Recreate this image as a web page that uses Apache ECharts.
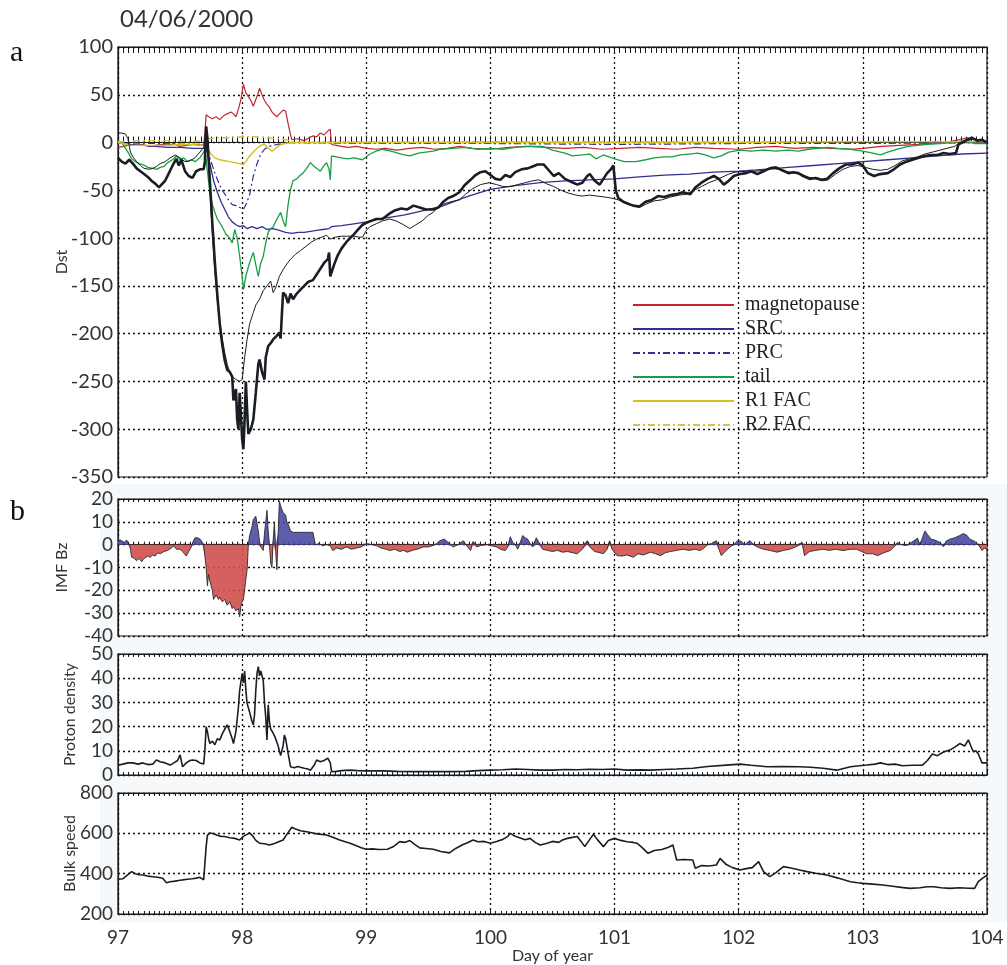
<!DOCTYPE html>
<html>
<head>
<meta charset="utf-8">
<script src="https://cdn.jsdelivr.net/npm/echarts@6/dist/echarts.min.js"></script>
<style>html,body{margin:0;padding:0;background:#fff}#c{width:1007px;height:965px}</style>
</head>
<body>
<div id="c"></div>
<script>
// ---- data: [day of year, value] ----
const dstObserved = [[97.00,-16],[97.03,-20],[97.06,-22],[97.09,-18],[97.12,-22],[97.15,-27],[97.18,-30],[97.21,-33],[97.24,-36],[97.27,-40],[97.30,-43],[97.33,-47],[97.35,-44],[97.38,-40],[97.41,-32],[97.44,-24],[97.47,-17],[97.49,-24],[97.51,-18],[97.54,-30],[97.57,-35],[97.60,-37],[97.63,-30],[97.66,-28],[97.69,-28],[97.70,-20],[97.71,17],[97.72,5],[97.74,-40],[97.76,-85],[97.78,-125],[97.80,-160],[97.82,-190],[97.84,-212],[97.86,-228],[97.88,-238],[97.90,-240],[97.92,-245],[97.93,-270],[97.95,-258],[97.96,-290],[97.97,-300],[97.98,-262],[97.99,-285],[98.00,-310],[98.01,-321],[98.02,-290],[98.03,-250],[98.04,-280],[98.05,-305],[98.07,-300],[98.09,-290],[98.11,-262],[98.13,-232],[98.14,-227],[98.16,-240],[98.18,-248],[98.19,-225],[98.21,-213],[98.23,-210],[98.25,-206],[98.28,-202],[98.30,-199],[98.31,-205],[98.32,-180],[98.33,-157],[98.35,-160],[98.37,-168],[98.39,-158],[98.41,-164],[98.44,-158],[98.47,-154],[98.50,-150],[98.53,-146],[98.57,-144],[98.60,-138],[98.63,-132],[98.66,-126],[98.69,-122],[98.70,-115],[98.71,-140],[98.74,-128],[98.77,-118],[98.80,-111],[98.84,-104],[98.87,-100],[98.90,-96],[98.94,-90],[98.97,-86],[99.00,-84],[99.04,-82],[99.08,-80],[99.13,-80],[99.18,-75],[99.23,-71],[99.28,-69],[99.33,-70],[99.38,-66],[99.43,-68],[99.48,-70],[99.54,-70],[99.58,-68],[99.62,-62],[99.66,-58],[99.70,-56],[99.75,-52],[99.79,-45],[99.84,-39],[99.88,-34],[99.92,-31],[99.96,-30],[100.00,-34],[100.04,-38],[100.08,-39],[100.12,-34],[100.16,-36],[100.20,-31],[100.25,-28],[100.30,-27],[100.34,-25],[100.38,-23],[100.43,-23],[100.47,-29],[100.51,-35],[100.55,-32],[100.60,-38],[100.65,-41],[100.70,-44],[100.74,-42],[100.78,-35],[100.80,-33],[100.84,-40],[100.88,-44],[100.91,-38],[100.94,-32],[100.97,-28],[100.99,-24],[101.01,-50],[101.03,-58],[101.07,-62],[101.11,-64],[101.15,-66],[101.20,-67],[101.25,-62],[101.30,-60],[101.35,-56],[101.40,-57],[101.45,-55],[101.50,-54],[101.55,-52],[101.61,-54],[101.65,-47],[101.70,-42],[101.75,-38],[101.80,-35],[101.84,-38],[101.88,-44],[101.92,-40],[101.96,-35],[102.01,-33],[102.06,-32],[102.10,-30],[102.15,-33],[102.20,-30],[102.25,-27],[102.30,-26],[102.35,-29],[102.40,-32],[102.44,-31],[102.48,-32],[102.52,-35],[102.57,-38],[102.62,-37],[102.67,-39],[102.71,-38],[102.76,-32],[102.81,-27],[102.86,-23],[102.91,-23],[102.96,-21],[103.00,-24],[103.04,-32],[103.09,-35],[103.14,-33],[103.20,-32],[103.25,-28],[103.30,-23],[103.35,-20],[103.40,-18],[103.45,-16],[103.50,-14],[103.55,-13],[103.60,-13],[103.65,-11],[103.70,-12],[103.75,-11],[103.77,-2],[103.80,0],[103.84,3],[103.88,5],[103.92,2],[103.96,3],[104.00,0]];

const dstModel = [[97.00,10],[97.03,10],[97.06,9],[97.08,4],[97.10,-10],[97.12,-15],[97.15,-20],[97.18,-24],[97.21,-27],[97.25,-28],[97.28,-27],[97.31,-25],[97.34,-22],[97.38,-20],[97.42,-16],[97.46,-13],[97.50,-16],[97.54,-20],[97.58,-19],[97.62,-16],[97.66,-10],[97.69,-5],[97.70,5],[97.71,15],[97.72,0],[97.74,-50],[97.76,-95],[97.78,-135],[97.80,-165],[97.82,-188],[97.84,-205],[97.86,-220],[97.88,-232],[97.90,-240],[97.92,-245],[97.95,-248],[97.98,-250],[98.00,-248],[98.02,-225],[98.04,-206],[98.06,-190],[98.09,-178],[98.11,-170],[98.14,-164],[98.17,-155],[98.20,-150],[98.23,-145],[98.25,-157],[98.27,-152],[98.30,-140],[98.33,-133],[98.36,-127],[98.39,-122],[98.43,-117],[98.47,-113],[98.52,-108],[98.56,-104],[98.60,-101],[98.64,-99],[98.68,-97],[98.71,-101],[98.75,-99],[98.80,-98],[98.85,-98],[98.90,-98],[98.94,-99],[98.97,-99],[99.00,-92],[99.03,-88],[99.08,-85],[99.13,-82],[99.19,-80],[99.24,-82],[99.30,-86],[99.35,-90],[99.40,-86],[99.45,-82],[99.50,-76],[99.54,-73],[99.58,-67],[99.63,-64],[99.68,-62],[99.75,-60],[99.80,-54],[99.86,-48],[99.92,-44],[99.99,-42],[100.05,-44],[100.10,-46],[100.16,-46],[100.22,-44],[100.28,-42],[100.34,-40],[100.39,-39],[100.45,-43],[100.51,-46],[100.57,-50],[100.63,-53],[100.69,-55],[100.74,-56],[100.80,-55],[100.86,-56],[100.92,-57],[100.97,-58],[101.03,-60],[101.08,-63],[101.14,-66],[101.20,-68],[101.26,-64],[101.32,-61],[101.38,-60],[101.45,-57],[101.52,-55],[101.58,-54],[101.64,-50],[101.70,-46],[101.76,-42],[101.82,-39],[101.87,-36],[101.92,-33],[101.97,-31],[102.02,-30],[102.08,-31],[102.14,-30],[102.20,-29],[102.26,-27],[102.32,-28],[102.38,-30],[102.44,-32],[102.50,-33],[102.56,-36],[102.62,-38],[102.67,-40],[102.72,-39],[102.78,-33],[102.84,-28],[102.90,-25],[102.96,-24],[103.02,-26],[103.08,-28],[103.14,-29],[103.20,-28],[103.26,-24],[103.32,-19],[103.38,-17],[103.44,-15],[103.50,-12],[103.56,-10],[103.62,-8],[103.68,-6],[103.74,-4],[103.78,0],[103.84,2],[103.90,4],[103.95,2],[104.00,0]];

const magnetopause = [[97.00,-5],[97.05,-4],[97.10,-2],[97.15,-3],[97.20,-2],[97.25,-4],[97.30,-3],[97.35,-2],[97.40,-3],[97.45,-1],[97.50,-4],[97.55,-3],[97.60,-2],[97.65,-2],[97.69,-3],[97.70,10],[97.71,29],[97.73,27],[97.76,25],[97.79,27],[97.82,24],[97.85,28],[97.88,30],[97.91,32],[97.93,30],[97.95,27],[97.97,35],[97.99,45],[98.01,61],[98.03,52],[98.05,48],[98.07,44],[98.09,38],[98.11,45],[98.13,52],[98.14,57],[98.16,50],[98.18,44],[98.20,40],[98.22,37],[98.24,32],[98.26,29],[98.28,27],[98.30,30],[98.33,34],[98.35,33],[98.37,20],[98.39,8],[98.40,3],[98.45,4],[98.50,2],[98.54,5],[98.57,7],[98.60,6],[98.63,10],[98.66,8],[98.69,12],[98.71,14],[98.72,-2],[98.76,-3],[98.80,-4],[98.86,-5],[98.92,-4],[99.00,-6],[99.08,-7],[99.15,-6],[99.25,-8],[99.35,-6],[99.45,-5],[99.55,-7],[99.65,-6],[99.75,-4],[99.85,-6],[100.00,-7],[100.15,-5],[100.30,-4],[100.45,-5],[100.60,-6],[100.75,-5],[100.90,-7],[101.05,-6],[101.20,-5],[101.35,-6],[101.50,-7],[101.65,-5],[101.80,-6],[102.00,-7],[102.15,-5],[102.30,-4],[102.45,-6],[102.60,-5],[102.75,-6],[102.90,-7],[103.00,-6],[103.15,-4],[103.30,-3],[103.45,-2],[103.60,0],[103.70,1],[103.78,3],[103.84,5],[103.90,3],[103.95,2],[104.00,-1]];

const src = [[97.00,0],[97.10,-2],[97.20,-3],[97.30,-4],[97.40,-5],[97.50,-5],[97.60,-6],[97.70,-6],[97.72,-10],[97.74,-22],[97.77,-40],[97.80,-52],[97.83,-62],[97.86,-70],[97.89,-78],[97.92,-83],[97.95,-86],[97.98,-88],[98.01,-87],[98.04,-90],[98.08,-88],[98.12,-90],[98.16,-88],[98.20,-91],[98.25,-90],[98.30,-92],[98.35,-94],[98.40,-95],[98.45,-94],[98.50,-94],[98.55,-93],[98.60,-92],[98.65,-91],[98.70,-90],[98.72,-88],[98.80,-87],[98.90,-85],[99.00,-83],[99.10,-80],[99.20,-78],[99.30,-76],[99.40,-73],[99.50,-70],[99.60,-67],[99.70,-62],[99.80,-57],[99.90,-53],[100.00,-49],[100.20,-45],[100.40,-42],[100.60,-40],[100.80,-39],[101.00,-38],[101.20,-36],[101.40,-34],[101.60,-33],[101.80,-31],[102.00,-30],[102.20,-28],[102.40,-26],[102.60,-24],[102.80,-22],[103.00,-20],[103.20,-18],[103.40,-16],[103.60,-14],[103.80,-12],[104.00,-11]];

const prc = [[97.00,0],[97.30,-1],[97.60,-2],[97.70,-3],[97.72,-8],[97.75,-20],[97.78,-32],[97.82,-45],[97.85,-52],[97.88,-58],[97.92,-65],[97.95,-66],[97.98,-68],[98.01,-70],[98.03,-65],[98.06,-55],[98.09,-35],[98.12,-22],[98.15,-12],[98.18,-7],[98.22,-4],[98.28,-2],[98.35,-1],[98.40,0],[99.00,-1],[100.00,-1],[101.00,-2],[102.00,-1],[103.00,-1],[104.00,0]];

const tail = [[97.00,0],[97.03,0],[97.05,-4],[97.08,-10],[97.11,-17],[97.14,-20],[97.17,-22],[97.20,-23],[97.24,-26],[97.28,-27],[97.31,-28],[97.34,-26],[97.37,-25],[97.40,-21],[97.44,-18],[97.47,-14],[97.50,-18],[97.53,-16],[97.56,-20],[97.59,-18],[97.62,-20],[97.66,-16],[97.69,-10],[97.70,-7],[97.72,-30],[97.74,-52],[97.76,-65],[97.78,-73],[97.80,-80],[97.83,-86],[97.85,-91],[97.87,-96],[97.90,-100],[97.92,-105],[97.94,-91],[97.96,-100],[97.98,-119],[98.00,-140],[98.01,-154],[98.03,-140],[98.05,-130],[98.07,-122],[98.09,-115],[98.11,-128],[98.13,-140],[98.15,-126],[98.17,-119],[98.19,-105],[98.21,-94],[98.23,-90],[98.25,-88],[98.28,-80],[98.31,-73],[98.33,-82],[98.35,-88],[98.37,-65],[98.39,-49],[98.41,-40],[98.44,-38],[98.47,-34],[98.49,-32],[98.52,-27],[98.55,-21],[98.58,-25],[98.61,-28],[98.63,-30],[98.66,-24],[98.68,-21],[98.70,-28],[98.71,-39],[98.72,-14],[98.76,-15],[98.80,-16],[98.85,-17],[98.90,-16],[98.97,-18],[99.03,-12],[99.08,-9],[99.13,-7],[99.20,-9],[99.28,-12],[99.35,-14],[99.42,-11],[99.48,-10],[99.54,-9],[99.60,-7],[99.70,-6],[99.80,-5],[99.90,-7],[100.00,-6],[100.10,-7],[100.20,-5],[100.30,-4],[100.42,-4],[100.50,-8],[100.60,-11],[100.66,-14],[100.74,-13],[100.80,-12],[100.85,-17],[100.91,-13],[101.00,-17],[101.08,-20],[101.17,-20],[101.25,-18],[101.32,-16],[101.40,-15],[101.46,-15],[101.53,-13],[101.60,-12],[101.67,-11],[101.73,-13],[101.80,-16],[101.86,-14],[101.92,-10],[102.01,-8],[102.10,-9],[102.20,-8],[102.30,-9],[102.40,-8],[102.48,-9],[102.56,-7],[102.64,-6],[102.72,-5],[102.80,-6],[102.90,-7],[103.00,-9],[103.08,-11],[103.14,-13],[103.20,-10],[103.28,-7],[103.36,-4],[103.44,-3],[103.52,-2],[103.62,-1],[103.72,0],[103.82,2],[103.90,-1],[104.00,-1]];

const r1fac = [[97.00,0],[97.05,-1],[97.10,-3],[97.20,-3],[97.30,-3],[97.40,-3],[97.50,-2],[97.60,-2],[97.70,-3],[97.72,-6],[97.75,-12],[97.78,-16],[97.82,-18],[97.86,-19],[97.90,-20],[97.94,-21],[97.98,-22],[98.01,-23],[98.03,-20],[98.06,-14],[98.09,-10],[98.12,-6],[98.15,-3],[98.18,-2],[98.21,-6],[98.24,-9],[98.27,-6],[98.30,-3],[98.34,-1],[98.40,0],[99.00,0],[100.00,0],[101.00,0],[102.00,0],[103.00,1],[104.00,1]];

const r2fac = [[97.00,1],[97.20,2],[97.40,2],[97.60,1],[97.70,2],[97.72,4],[97.80,5],[97.90,5],[98.00,6],[98.10,6],[98.20,5],[98.30,4],[98.35,3],[98.40,1],[98.50,0],[99.00,0],[100.00,1],[101.00,1],[102.00,1],[103.00,1],[104.00,1]];

const imfBz = [[97.00,1.5],[97.02,2],[97.05,1],[97.07,2],[97.09,0],[97.10,-2],[97.11,-5.5],[97.13,-6],[97.15,-7],[97.17,-6],[97.19,-7.5],[97.21,-6],[97.24,-5],[97.26,-5.5],[97.28,-4.5],[97.30,-5],[97.32,-3.5],[97.34,-4],[97.37,-3],[97.40,-2.5],[97.43,-1.5],[97.45,-0.5],[97.47,-2],[97.50,-2],[97.52,-3],[97.55,-5],[97.57,-3],[97.59,-1],[97.61,2],[97.62,3],[97.64,3],[97.66,2.5],[97.68,1],[97.69,-0.5],[97.70,-5],[97.71,-10],[97.72,-18],[97.73,-13],[97.74,-16],[97.76,-20],[97.77,-24],[97.79,-22],[97.81,-24],[97.82,-23],[97.84,-25],[97.86,-24],[97.88,-26.5],[97.90,-25],[97.92,-28],[97.93,-27],[97.95,-29],[97.97,-28],[97.98,-31.6],[97.99,-27],[98.00,-25],[98.01,-24],[98.02,-20],[98.03,-15],[98.04,-11],[98.05,0],[98.06,4],[98.08,8],[98.09,11],[98.11,12.5],[98.12,12],[98.13,6],[98.14,1.5],[98.15,-1],[98.17,-2.5],[98.18,5],[98.19,10],[98.20,15],[98.21,6],[98.22,0],[98.23,-8],[98.24,-10],[98.25,2],[98.26,10],[98.27,-3],[98.28,-11],[98.29,5],[98.30,19],[98.31,17],[98.33,14],[98.35,13],[98.36,10],[98.37,9],[98.39,6],[98.41,5.4],[98.45,5.4],[98.50,5.4],[98.55,5.4],[98.57,5.4],[98.59,0],[98.62,0.5],[98.65,-0.5],[98.68,0],[98.71,-0.5],[98.73,-2.6],[98.76,-1.5],[98.80,-2],[98.84,-1],[98.88,-2],[98.92,-1.5],[98.96,-1],[99.00,0.5],[99.01,1.3],[99.04,0],[99.08,-0.4],[99.12,-1.5],[99.16,-2],[99.19,-2.6],[99.23,-2],[99.27,-3],[99.30,-2.5],[99.33,-3.3],[99.37,-2.5],[99.41,-2],[99.46,-1],[99.50,-1],[99.53,-0.5],[99.57,0.5],[99.59,1.7],[99.63,2.4],[99.66,1],[99.70,-1],[99.74,0],[99.78,1.7],[99.81,-0.5],[99.84,-2.6],[99.86,1.4],[99.89,-1],[99.92,-0.4],[99.97,0],[100.01,-0.5],[100.05,-1],[100.08,-2],[100.12,-2.6],[100.14,-1],[100.16,3.5],[100.18,1],[100.20,0],[100.22,-2],[100.24,1],[100.26,4],[100.28,3],[100.30,2.4],[100.32,0.5],[100.34,-1],[100.37,3],[100.39,1],[100.42,-2],[100.46,-2.5],[100.50,-3],[100.54,-2.5],[100.58,-3.3],[100.62,-3],[100.66,-3.5],[100.70,-4],[100.74,-2],[100.78,1.7],[100.80,-1],[100.84,-3],[100.88,-3.5],[100.91,-4],[100.94,-2],[100.96,1.7],[100.98,-2],[101.02,-4.8],[101.06,-5],[101.10,-4.5],[101.15,-5.5],[101.19,-4],[101.23,-4.5],[101.29,-3.3],[101.33,-4],[101.37,-4.8],[101.41,-3.5],[101.45,-3],[101.50,-2.5],[101.55,-2],[101.60,-2.5],[101.65,-2],[101.69,-2.6],[101.72,-1.5],[101.75,0],[101.78,0.5],[101.82,1.7],[101.84,-2],[101.86,-4.8],[101.89,-3],[101.93,-1],[101.96,0],[101.99,1.7],[102.02,1.5],[102.05,0],[102.07,1],[102.09,1.7],[102.12,0],[102.15,-1],[102.20,-2],[102.25,-2.5],[102.31,-3.3],[102.36,-2.5],[102.41,-2],[102.46,-1],[102.51,1],[102.53,-4.8],[102.57,-3],[102.62,-2.5],[102.68,-2],[102.73,-2.5],[102.78,-2],[102.84,-2.6],[102.90,-2],[102.95,-2],[102.99,-3],[103.03,-4],[103.08,-4],[103.12,-4.8],[103.17,-3.5],[103.22,-2.6],[103.25,-1],[103.28,1],[103.31,0],[103.35,-0.4],[103.39,1],[103.42,2],[103.44,2.9],[103.46,0],[103.48,3],[103.50,6],[103.52,4.5],[103.55,2.4],[103.58,2],[103.62,1],[103.65,-0.9],[103.67,1.5],[103.70,2.4],[103.74,3],[103.78,4],[103.81,4.9],[103.84,4],[103.86,2.4],[103.90,1.5],[103.93,0],[103.96,-2.6],[103.98,-1.5],[104.00,-2]];

const protonDensity = [[97.00,4],[97.04,4.5],[97.08,5],[97.12,5],[97.16,4.5],[97.20,5],[97.24,4.3],[97.28,4.5],[97.31,6.2],[97.34,5.5],[97.38,5],[97.42,4.1],[97.45,5],[97.48,6],[97.50,8.3],[97.52,3.4],[97.55,5],[97.58,6],[97.60,6.2],[97.63,6],[97.66,5],[97.69,4.5],[97.70,10],[97.71,20],[97.72,18],[97.73,15],[97.74,13],[97.76,14],[97.78,12.5],[97.80,15],[97.82,14.5],[97.84,17],[97.86,19],[97.88,20.7],[97.90,18],[97.92,15],[97.93,13],[97.95,18],[97.97,28],[97.98,35],[98.00,42],[98.01,38],[98.02,43],[98.03,35],[98.04,29.6],[98.06,26],[98.08,22],[98.09,20.7],[98.10,25],[98.11,35],[98.12,42],[98.13,44.8],[98.14,41],[98.15,43],[98.17,39],[98.18,30],[98.19,24],[98.20,14.5],[98.21,29],[98.22,22],[98.23,19],[98.25,17.3],[98.27,15],[98.29,12],[98.31,8],[98.32,7.6],[98.33,12],[98.34,16.5],[98.35,15],[98.37,9],[98.39,3.4],[98.42,3],[98.45,3.5],[98.47,3.2],[98.50,2.8],[98.53,2.5],[98.55,2],[98.58,4],[98.60,6.2],[98.63,5.5],[98.66,6],[98.69,7],[98.71,5],[98.72,1.4],[98.76,1.5],[98.80,1.8],[98.87,2],[98.93,1.8],[99.00,1.7],[99.13,1.7],[99.25,1.5],[99.40,1.4],[99.55,1.4],[99.66,1.4],[99.80,1.5],[99.90,1.8],[100.00,2],[100.10,2.2],[100.20,2.5],[100.30,2.3],[100.40,2],[100.50,2],[100.60,2.3],[100.70,2.2],[100.80,2.4],[100.90,2.3],[101.00,2.5],[101.10,2],[101.20,2.1],[101.29,2],[101.40,2.3],[101.50,2.5],[101.63,2.8],[101.75,3.5],[101.90,4.1],[102.01,4.5],[102.10,4],[102.23,3.4],[102.35,3.5],[102.49,3.4],[102.58,3.2],[102.68,2.8],[102.79,2],[102.90,3.4],[103.03,4.1],[103.10,4.5],[103.14,5],[103.20,4.3],[103.26,4.5],[103.32,3.8],[103.40,4],[103.48,4.1],[103.52,6],[103.56,8.7],[103.60,8],[103.65,9.5],[103.70,10.3],[103.74,11.5],[103.78,13],[103.82,12],[103.85,14.5],[103.87,12],[103.89,9.6],[103.91,10],[103.93,8.7],[103.96,5],[104.00,5]];

const bulkSpeed = [[97.00,372],[97.04,375],[97.08,395],[97.11,410],[97.14,400],[97.17,395],[97.20,393],[97.24,388],[97.28,385],[97.32,382],[97.36,377],[97.39,355],[97.42,360],[97.46,363],[97.50,367],[97.52,369],[97.56,372],[97.60,375],[97.63,378],[97.66,382],[97.69,370],[97.70,369],[97.71,534],[97.72,590],[97.74,602],[97.77,598],[97.80,590],[97.83,585],[97.86,584],[97.90,578],[97.94,575],[97.98,567],[98.01,585],[98.04,595],[98.06,603],[98.08,590],[98.11,565],[98.14,551],[98.18,548],[98.22,542],[98.26,550],[98.30,560],[98.33,567],[98.36,595],[98.40,630],[98.43,622],[98.47,613],[98.52,608],[98.58,600],[98.64,595],[98.68,592],[98.73,580],[98.78,568],[98.83,558],[98.87,551],[98.92,538],[98.96,528],[99.00,521],[99.05,523],[99.10,520],[99.17,521],[99.22,535],[99.27,559],[99.31,555],[99.35,564],[99.39,545],[99.43,528],[99.48,525],[99.54,521],[99.60,510],[99.67,503],[99.72,525],[99.78,545],[99.82,555],[99.86,567],[99.90,558],[99.95,560],[100.00,551],[100.05,560],[100.10,570],[100.14,585],[100.16,600],[100.20,585],[100.24,577],[100.28,568],[100.32,575],[100.36,555],[100.40,542],[100.45,550],[100.50,560],[100.55,555],[100.58,567],[100.62,575],[100.66,580],[100.70,584],[100.73,560],[100.76,534],[100.80,570],[100.83,595],[100.86,570],[100.91,534],[100.95,565],[101.00,575],[101.05,565],[101.10,558],[101.15,555],[101.18,551],[101.22,530],[101.27,501],[101.32,515],[101.38,520],[101.43,530],[101.47,542],[101.50,468],[101.56,470],[101.63,468],[101.65,427],[101.70,440],[101.76,438],[101.82,443],[101.85,476],[101.90,445],[101.95,430],[102.01,418],[102.06,425],[102.11,430],[102.16,460],[102.20,410],[102.25,385],[102.30,405],[102.36,435],[102.42,428],[102.49,418],[102.55,410],[102.62,402],[102.71,393],[102.80,378],[102.90,360],[102.96,355],[103.00,352],[103.08,348],[103.16,344],[103.24,338],[103.31,332],[103.38,327],[103.46,330],[103.52,335],[103.57,335],[103.63,330],[103.70,327],[103.78,330],[103.85,328],[103.90,327],[103.93,360],[103.96,375],[104.00,393]];

const legendNames = ['magnetopause','SRC','PRC','tail','R1 FAC','R2 FAC'];
const dayTicks = [97,98,99,100,101,102,103,104];

// positive / negative parts of Bz for the two-colour fill
const bzPositive = imfBz.map(([d, v]) => [d, Math.max(v, 0)]);
const bzNegative = imfBz.map(([d, v]) => [d, Math.min(v, 0)]);

// ---- layout ----
const L = 118, W = 869;
const panels = [
  {top:47,  height:430, min:-350, max:100, interval:50,  name:'Dst',            gap:48, fs:20},
  {top:499, height:137, min:-40,  max:20,  interval:10,  name:'IMF Bz',         gap:48, fs:19},
  {top:654, height:121, min:0,    max:50,  interval:10,  name:'Proton density', gap:40, fs:19},
  {top:793, height:121, min:200,  max:800, interval:200, name:'Bulk speed',     gap:40, fs:19}
];
const sansFont = 'Lato';
const grids = [], xAxes = [], yAxes = [];
panels.forEach((p, i) => {
  grids.push({left:L, width:W, top:p.top, height:p.height, show:true, backgroundColor:'#fff',
              borderColor:'#1a1a1a', borderWidth:1.2, containLabel:false});
  const tickLen = i === 0 ? 6 : 3;
  ['bottom','top'].forEach((pos, k) => {
    xAxes.push({
      type:'value', gridIndex:i, position:pos, min:97, max:104, interval:1,
      axisLine:{show:true, lineStyle:{color:'#1a1a1a', width:1.2}},
      axisTick:{show:true, inside:true, length:tickLen+1, lineStyle:{color:'#1a1a1a'}},
      minorTick:{show:true, splitNumber:24, length:tickLen, lineStyle:{color:'#1a1a1a', width:1}},
      splitLine:{show:k===0, lineStyle:{color:'#111', type:[2,3], width:1.3}},
      minorSplitLine:{show:false},
      axisLabel:{show:(i===3 && k===0), color:'#333', fontFamily:sansFont, fontSize:19, margin:14,
                 formatter: v => dayTicks.includes(v) ? String(v) : ''},
      name:(i===3 && k===0) ? 'Day of year' : '',
      nameMoveOverlap:false,
      nameLocation:'middle', nameGap:34, nameTextStyle:{color:'#333', fontFamily:sansFont, fontSize:16}
    });
  });
  yAxes.push({
    type:'value', gridIndex:i, min:p.min, max:p.max, interval:p.interval,
    axisLine:{show:true, lineStyle:{color:'#1a1a1a', width:1.2}},
    axisTick:{show:false},
    splitLine:{show:true, lineStyle:{color:'#111', type:[2,3], width:1.3}},
    axisLabel:{color:'#333', fontFamily:sansFont, fontSize:p.fs, margin:5},
    name:p.name, nameLocation:'middle', nameRotate:90, nameGap:p.gap, nameMoveOverlap:false,
    nameTextStyle:{color:'#333', fontFamily:sansFont, fontSize:16}
  });
});

function line(name, data, gi, color, width, type, z) {
  return {name, type:'line', data, xAxisIndex:gi*2, yAxisIndex:gi, symbol:'none', showSymbol:false,
          animation:false, z:z||2, silent:true,
          lineStyle:{color, width, type:type||'solid'}, itemStyle:{color}};
}
function fill(name, data, color) {
  return {name, type:'line', data, xAxisIndex:2, yAxisIndex:1, symbol:'none', showSymbol:false,
          animation:false, silent:true, z:2,
          lineStyle:{width:0, opacity:0}, itemStyle:{color}, areaStyle:{color, opacity:0.9}};
}

const series = [
  line('magnetopause', magnetopause, 0, '#c1272d', 1.2),
  line('SRC', src, 0, '#2e3192', 1.3),
  line('PRC', prc, 0, '#2e3192', 1.2, [7,3,2,3]),
  line('tail', tail, 0, '#17a043', 1.3),
  line('R1 FAC', r1fac, 0, '#d4c01e', 1.4),
  line('R2 FAC', r2fac, 0, '#d4c24a', 1.4, [7,3,2,3]),
  line('model', dstModel, 0, '#1c1c1c', 1.0, 'solid', 3),
  line('observed', dstObserved, 0, '#1a1d24', 2.6, 'solid', 4),
  fill('bzPos', bzPositive, '#4b4ba4'),
  fill('bzNeg', bzNegative, '#d0504c'),
  line('bzLine', imfBz, 1, '#2a2a2a', 0.9, 'solid', 3),
  line('density', protonDensity, 2, '#1a1d24', 1.6),
  line('speed', bulkSpeed, 3, '#1a1d24', 1.6)
];

const option = {
  backgroundColor:'#fff',
  animation:false,
  grid:grids, xAxis:xAxes, yAxis:yAxes, series,
  legend:{data:legendNames, orient:'vertical', left:627, top:290, itemWidth:101, itemHeight:14, itemGap:4,
          itemStyle:{opacity:0}, selectedMode:false,
          textStyle:{fontFamily:'Liberation Serif', fontSize:20, color:'#222', padding:[0,0,0,6]}},
  graphic:[
    {type:'rect', z:-10, shape:{x:100, y:484, width:907, height:438}, style:{fill:'#f6f9fb'}},
    {type:'text', left:120, top:7, style:{text:'04/06/2000', fontFamily:sansFont, fontSize:24, fill:'#333'}},
    {type:'text', left:10, top:38, style:{text:'a', fontFamily:'Liberation Serif', fontSize:30, fill:'#111'}},
    {type:'text', left:10, top:497, style:{text:'b', fontFamily:'Liberation Serif', fontSize:30, fill:'#111'}}
  ]
};
const chart = echarts.init(document.getElementById('c'), null, {renderer:'canvas'});
chart.setOption(option);
</script>
</body>
</html>
